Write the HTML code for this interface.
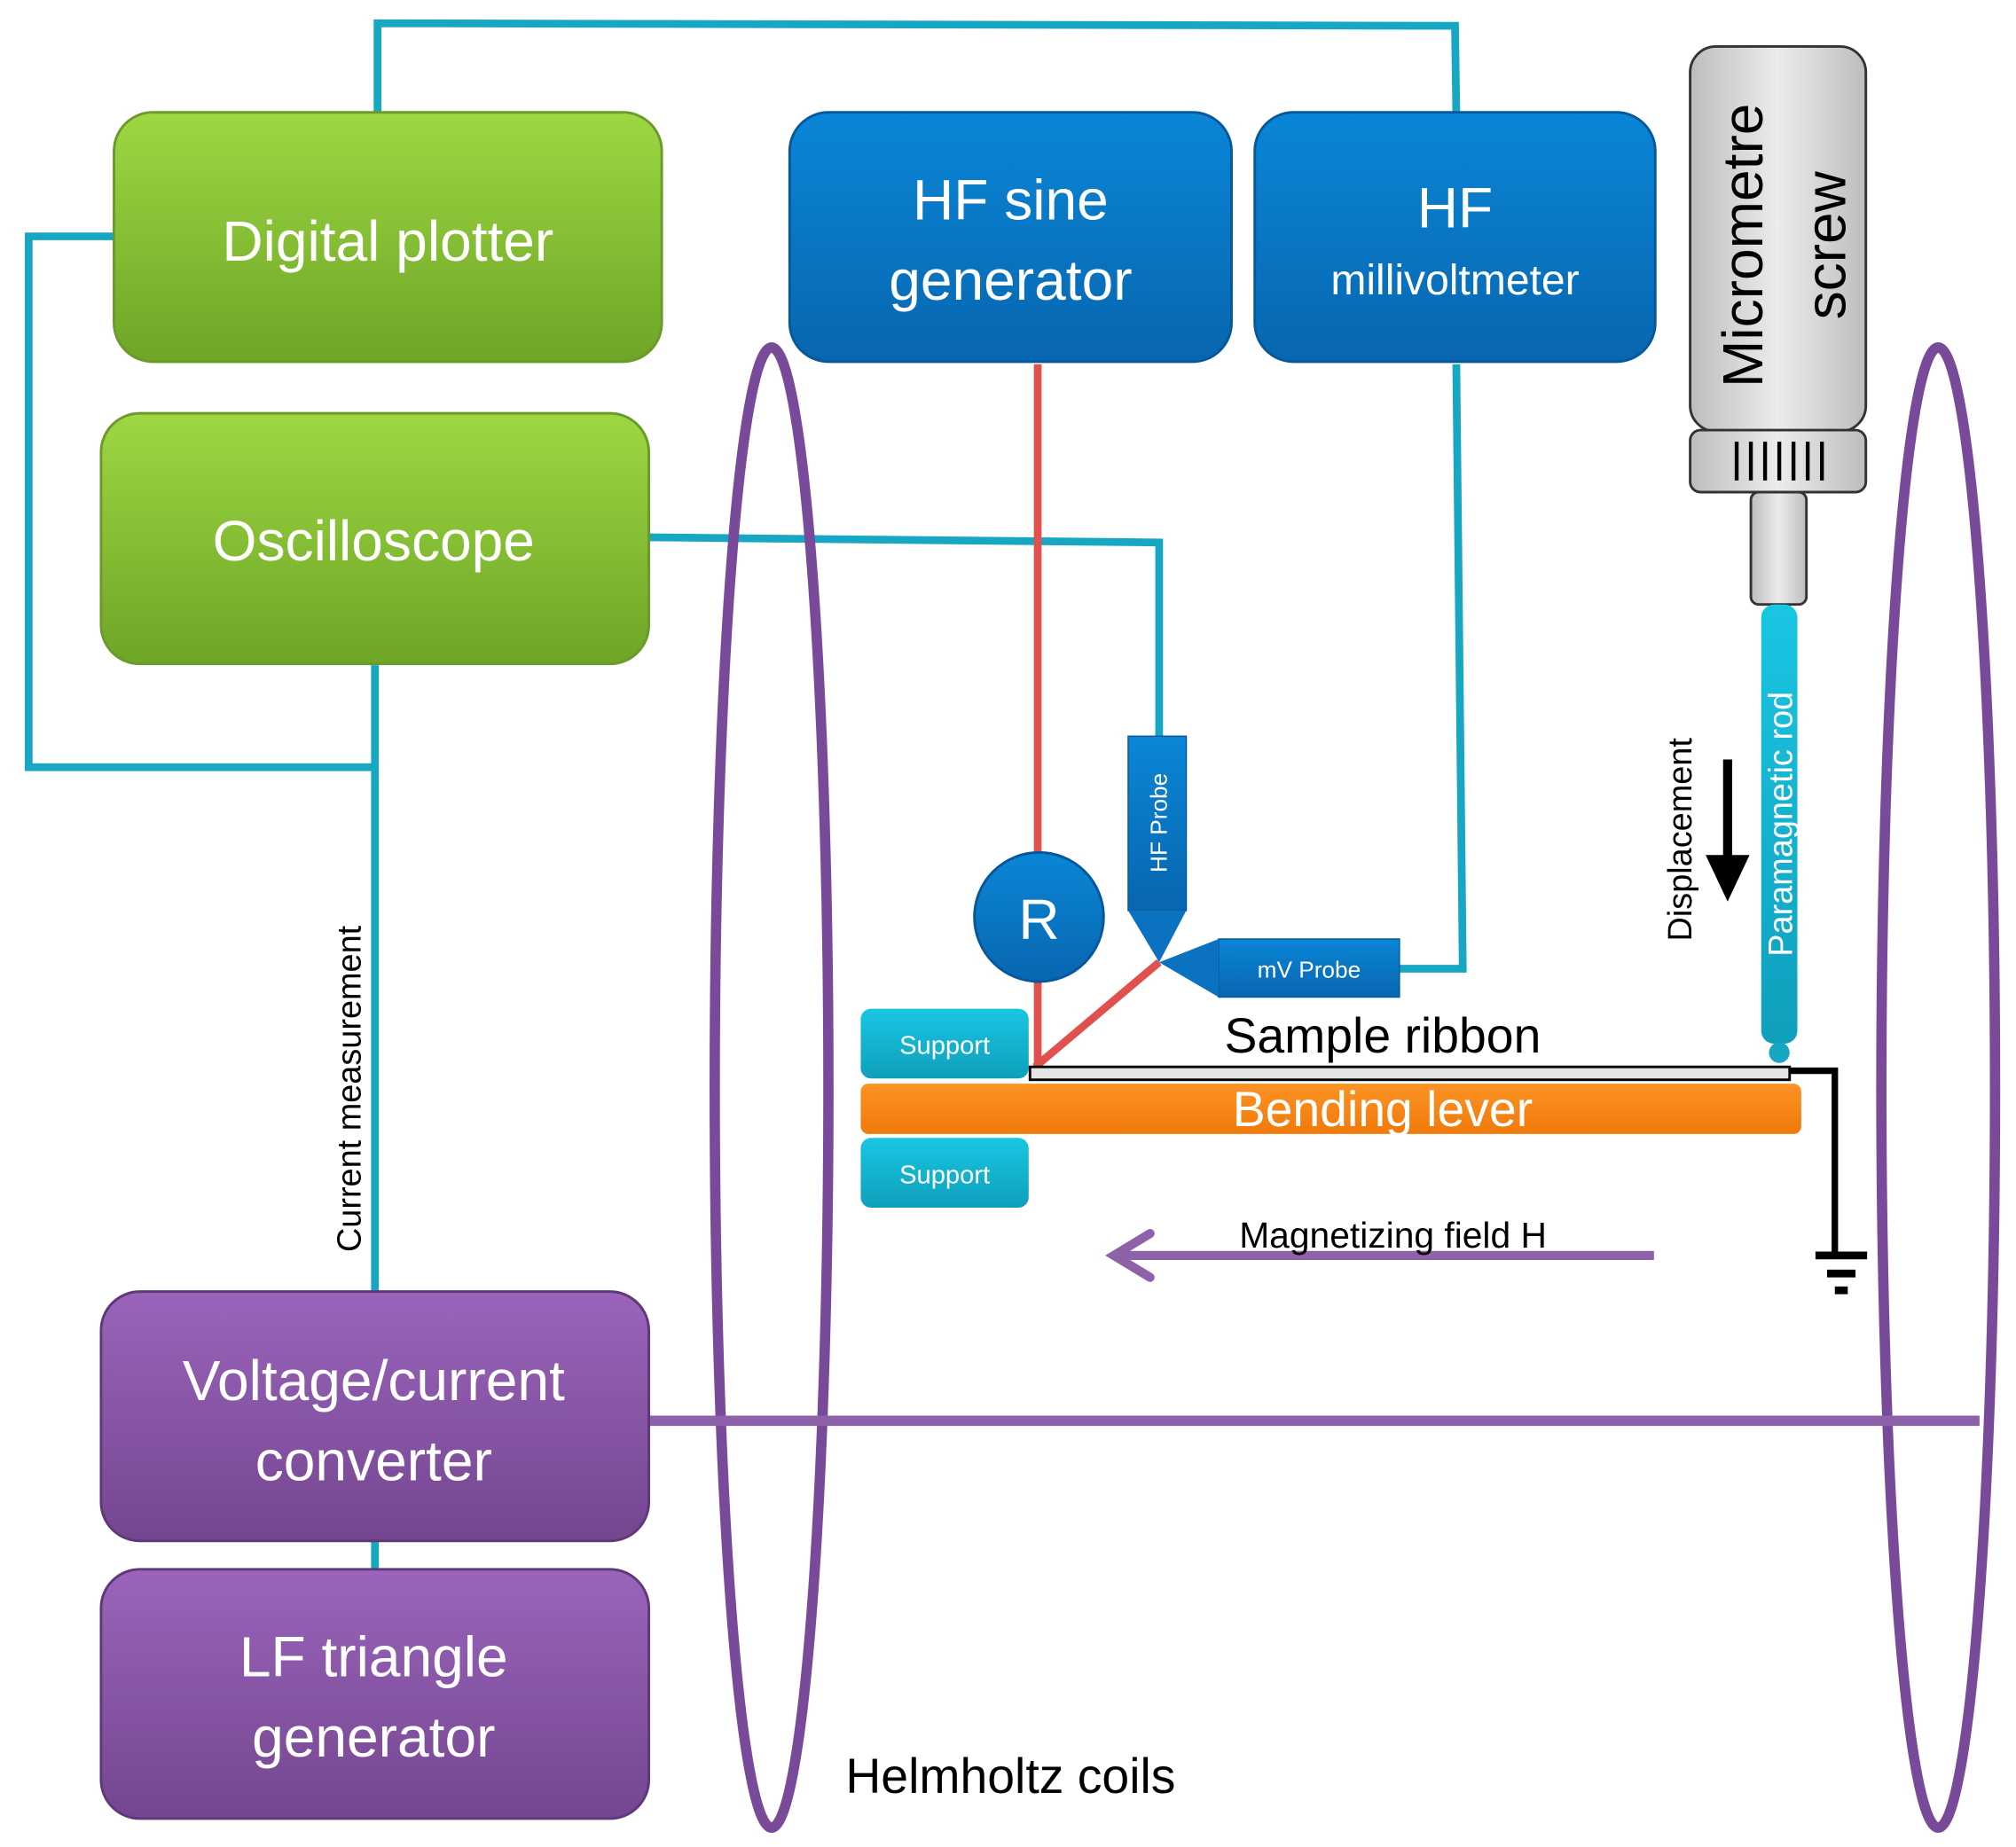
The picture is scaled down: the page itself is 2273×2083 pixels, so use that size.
<!DOCTYPE html>
<html><head><meta charset="utf-8"><style>
html,body{margin:0;padding:0;background:#fff;}
svg{display:block;}
text{font-family:"Liberation Sans",sans-serif;}
</style></head><body>
<svg width="2273" height="2083" viewBox="0 0 1560 1430" xmlns="http://www.w3.org/2000/svg">
<defs>
<linearGradient id="g" x1="0" y1="0" x2="0" y2="1"><stop offset="0" stop-color="#9ed743"/><stop offset="1" stop-color="#6ea526"/></linearGradient>
<linearGradient id="b" x1="0" y1="0" x2="0" y2="1"><stop offset="0" stop-color="#0a86d6"/><stop offset="1" stop-color="#0866b0"/></linearGradient>
<linearGradient id="p" x1="0" y1="0" x2="0" y2="1"><stop offset="0" stop-color="#9a64bb"/><stop offset="1" stop-color="#74468f"/></linearGradient>
<linearGradient id="c" x1="0" y1="0" x2="0" y2="1"><stop offset="0" stop-color="#19c6e2"/><stop offset="1" stop-color="#0f9fbc"/></linearGradient>
<linearGradient id="o" x1="0" y1="0" x2="0" y2="1"><stop offset="0" stop-color="#fb9325"/><stop offset="1" stop-color="#f07a0a"/></linearGradient>
<linearGradient id="gr" x1="0" y1="0" x2="1" y2="0"><stop offset="0" stop-color="#bdbdbd"/><stop offset="0.5" stop-color="#ececec"/><stop offset="1" stop-color="#bdbdbd"/></linearGradient>
</defs>
<!-- cyan wires -->
<g fill="none" stroke="#17a7c3" stroke-width="6">
<polyline points="292,88 292,18 1126,20 1127,88"/>
<polyline points="88,183 22,183 22,594 290,594"/>
<polyline points="290,515 290,1000"/>
<polyline points="290,1190 290,1218"/>
<polyline points="502,416 897,420 897,572"/>
<polyline points="1127,282 1132,750 1082,750"/>
</g>
<!-- red wires -->
<g fill="none" stroke="#e0504c" stroke-width="6">
<polyline points="803,282 803,828"/>
<polyline points="801,826 897,745"/>
</g>
<!-- coils -->
<g fill="none" stroke="#7a4a9a" stroke-width="8">
<ellipse cx="597" cy="842" rx="44" ry="573"/>
<ellipse cx="1500" cy="842" rx="44" ry="573"/>
</g>
<line x1="502" y1="1100" x2="1532" y2="1100" stroke="#8e62a8" stroke-width="8"/>
<!-- boxes -->
<rect x="88" y="87" width="424" height="193" rx="30" fill="url(#g)" stroke="#6a9a2a" stroke-width="2"/>
<text x="300" y="202" font-size="44" fill="#fff" text-anchor="middle">Digital plotter</text>
<rect x="78" y="320" width="424" height="194" rx="30" fill="url(#g)" stroke="#6a9a2a" stroke-width="2"/>
<text x="289" y="434" font-size="44" fill="#fff" text-anchor="middle">Oscilloscope</text>
<rect x="611" y="87" width="342" height="193" rx="30" fill="url(#b)" stroke="#06589a" stroke-width="2"/>
<text x="782" y="170" font-size="44" fill="#fff" text-anchor="middle">HF sine</text>
<text x="782" y="232" font-size="44" fill="#fff" text-anchor="middle">generator</text>
<rect x="971" y="87" width="310" height="193" rx="30" fill="url(#b)" stroke="#06589a" stroke-width="2"/>
<text x="1126" y="176" font-size="44" fill="#fff" text-anchor="middle">HF</text>
<text x="1126" y="228" font-size="33" fill="#fff" text-anchor="middle">millivoltmeter</text>
<rect x="78" y="1000" width="424" height="193" rx="30" fill="url(#p)" stroke="#5e3878" stroke-width="2"/>
<text x="289" y="1084" font-size="44" fill="#fff" text-anchor="middle">Voltage/current</text>
<text x="289" y="1146" font-size="44" fill="#fff" text-anchor="middle">converter</text>
<rect x="78" y="1215" width="424" height="193" rx="30" fill="url(#p)" stroke="#5e3878" stroke-width="2"/>
<text x="289" y="1298" font-size="44" fill="#fff" text-anchor="middle">LF triangle</text>
<text x="289" y="1360" font-size="44" fill="#fff" text-anchor="middle">generator</text>
<text transform="translate(279,843) rotate(-90)" font-size="26" fill="#000" text-anchor="middle">Current measurement</text>
<text x="782" y="1388" font-size="38" fill="#000" text-anchor="middle">Helmholtz coils</text>
<!-- R -->
<circle cx="804" cy="710" r="50" fill="url(#b)" stroke="#06589a" stroke-width="2"/>
<text x="804" y="727" font-size="44" fill="#fff" text-anchor="middle">R</text>
<!-- probes -->
<rect x="873" y="570" width="45" height="135" fill="url(#b)" stroke="#06589a"/>
<polygon points="873,705 918,705 897,745" fill="#0a72c0"/>
<text transform="translate(903,637) rotate(-90)" font-size="18" fill="#fff" text-anchor="middle">HF Probe</text>
<rect x="943" y="727" width="140" height="45" fill="url(#b)" stroke="#06589a"/>
<polygon points="943,727 943,772 897,745" fill="#0a72c0"/>
<text x="1013" y="757" font-size="18" fill="#fff" text-anchor="middle">mV Probe</text>
<!-- supports, ribbon, lever -->
<rect x="666" y="781" width="130" height="54" rx="8" fill="url(#c)"/>
<text x="731" y="816" font-size="20" fill="#fff" text-anchor="middle">Support</text>
<rect x="666" y="881" width="130" height="54" rx="8" fill="url(#c)"/>
<text x="731" y="916" font-size="20" fill="#fff" text-anchor="middle">Support</text>
<rect x="797" y="826" width="588" height="10" fill="#e4e4e4" stroke="#000" stroke-width="2"/>
<text x="1070" y="815" font-size="38" fill="#000" text-anchor="middle">Sample ribbon</text>
<rect x="666" y="839" width="728" height="39" rx="6" fill="url(#o)"/>
<text x="1070" y="872" font-size="38" fill="#fff" text-anchor="middle">Bending lever</text>
<!-- ground -->
<polyline points="1385,829 1420,829 1420,970" fill="none" stroke="#000" stroke-width="5"/>
<rect x="1405" y="969" width="40" height="6" fill="#000"/>
<rect x="1414" y="983" width="22" height="6" fill="#000"/>
<rect x="1420" y="996" width="10" height="6" fill="#000"/>
<!-- field arrow -->
<line x1="1280" y1="972" x2="864" y2="972" stroke="#8e62a8" stroke-width="7"/>
<polyline points="890,955 862,972 890,989" fill="none" stroke="#8e62a8" stroke-width="7" stroke-linecap="round"/>
<text x="1078" y="966" font-size="28" fill="#000" text-anchor="middle">Magnetizing field H</text>
<!-- micrometer -->
<rect x="1308" y="36" width="136" height="298" rx="20" fill="url(#gr)" stroke="#333" stroke-width="2"/>
<text transform="translate(1364,190) rotate(-90)" font-size="44" fill="#000" text-anchor="middle">Micrometre</text>
<text transform="translate(1428,190) rotate(-90)" font-size="44" fill="#000" text-anchor="middle">screw</text>
<rect x="1308" y="333" width="136" height="48" rx="8" fill="url(#gr)" stroke="#333" stroke-width="2"/>
<g stroke="#000" stroke-width="3">
<line x1="1344" y1="342" x2="1344" y2="372"/><line x1="1355" y1="342" x2="1355" y2="372"/><line x1="1366" y1="342" x2="1366" y2="372"/><line x1="1377" y1="342" x2="1377" y2="372"/><line x1="1388" y1="342" x2="1388" y2="372"/><line x1="1399" y1="342" x2="1399" y2="372"/><line x1="1410" y1="342" x2="1410" y2="372"/>
</g>
<rect x="1355" y="381" width="43" height="87" rx="6" fill="url(#gr)" stroke="#333" stroke-width="2"/>
<rect x="1363" y="468" width="28" height="340" rx="10" fill="url(#c)"/>
<circle cx="1377" cy="815" r="8" fill="#17a7c3"/>
<text transform="translate(1387,638) rotate(-90)" font-size="26" fill="#fff" text-anchor="middle">Paramagnetic rod</text>
<text transform="translate(1309,650) rotate(-90)" font-size="26" fill="#000" text-anchor="middle">Displacement</text>
<line x1="1337" y1="588" x2="1337" y2="670" stroke="#000" stroke-width="7"/>
<polygon points="1320,662 1354,662 1337,698" fill="#000"/>
</svg>
</body></html>
